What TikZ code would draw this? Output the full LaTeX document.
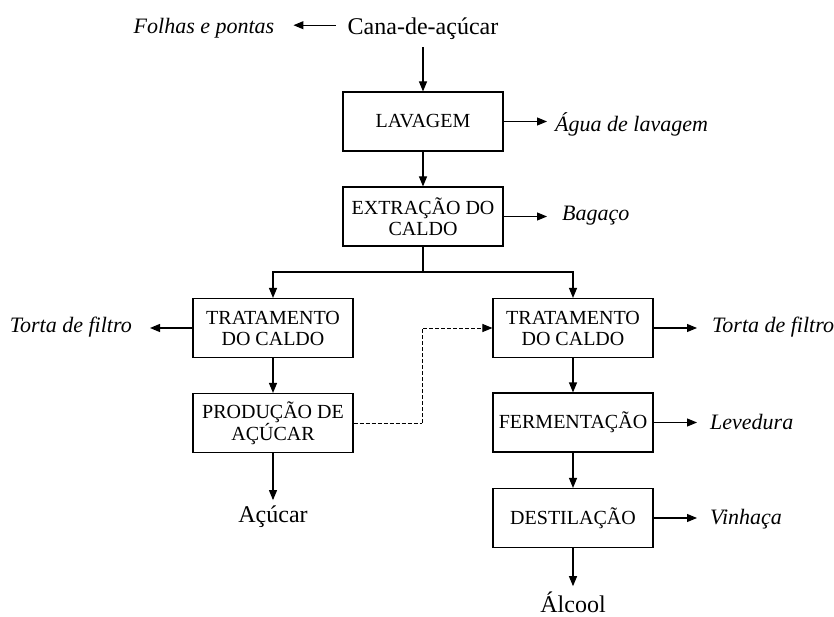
\documentclass[tikz,border=0pt]{standalone}
\usepackage{fontspec}
\setmainfont{Liberation Serif}
\usetikzlibrary{arrows.meta}
\begin{document}
\begin{tikzpicture}[x=1pt,y=-1pt,
  proc/.style={draw, line width=1.1pt, minimum width=160pt, minimum height=59pt, align=center, inner sep=2pt,
     font=\fontsize{20}{21}\selectfont},
  big/.style={inner sep=0pt, font=\fontsize{24}{26}\selectfont},
  lbl/.style={inner sep=0pt, font=\fontsize{22}{24}\selectfont\itshape},
  flow/.style={line width=1.1pt, -{Triangle[length=10pt,width=8pt]}},
  plain/.style={line width=1.1pt},
  dashline/.style={line width=1pt, dash pattern=on 4pt off 2pt}
]
\useasboundingbox (0,0) rectangle (834,617);
% nodes
\node[big, anchor=base] (cana) at (423,35) {Cana-de-açúcar};
\node[lbl, anchor=base] (folhas) at (204,34) {Folhas e pontas};
\node[proc] (lav) at (423,121.5) {LAVAGEM};
\node[lbl, anchor=west] (agua) at (555,124) {Água de lavagem};
\node[proc] (ext) at (423,216.5) {EXTRAÇÃO DO\\CALDO};
\node[lbl, anchor=west] (bag) at (562,216) {Bagaço};
\coordinate (split) at (423,272);
\node[proc] (tl) at (273,328) {TRATAMENTO\\DO CALDO};
\node[lbl, anchor=east] (tortaL) at (132,327) {Torta de filtro};
\node[proc] (pa) at (273,423) {PRODUÇÃO DE\\AÇÚCAR};
\node[big, anchor=base] (acucar) at (273,522) {Açúcar};
\node[proc] (tr) at (573,328) {TRATAMENTO\\DO CALDO};
\node[lbl, anchor=west] (tortaR) at (712,327) {Torta de filtro};
\node[proc] (fer) at (573,422.5) {FERMENTAÇÃO};
\node[lbl, anchor=west] (lev) at (710,422) {Levedura};
\node[proc] (des) at (573,518) {DESTILAÇÃO};
\node[lbl, anchor=west] (vin) at (710,519) {Vinhaça};
\node[big, anchor=base] (alcool) at (573,612) {Álcool};
\coordinate (dashc) at (422,423);
% connectors
\draw[flow, shorten <=12pt, shorten >=19pt] ([yshift=4pt]cana.west) -- ([yshift=4pt]folhas.east |- cana.west);
\draw[flow, shorten <=7pt] (cana.south) -- (lav.north);
\draw[flow, shorten >=8pt] (lav.east) -- (agua.west |- lav.east);
\draw[flow] (lav.south) -- (ext.north);
\draw[flow, shorten >=15pt] (ext.east) -- (bag.west |- ext.east);
\draw[plain] (ext.south) -- (split);
\draw[flow] (split) -| (tl.north);
\draw[flow] (split) -| (tr.north);
\draw[flow, shorten >=18pt] (tl.west) -- (tortaL.east |- tl.west);
\draw[flow] (tl.south) -- (pa.north);
\draw[flow, shorten >=5pt] (pa.south) -- (acucar.north);
\draw[dashline] (pa.east) -- (dashc);
\draw[dashline, -{Triangle[length=10pt,width=8pt]}] (dashc) |- (tr.west);
\draw[flow, shorten >=15pt] (tr.east) -- (tortaR.west |- tr.east);
\draw[flow] (tr.south) -- (fer.north);
\draw[flow, shorten >=13pt] (fer.east) -- (lev.west |- fer.east);
\draw[flow] (fer.south) -- (des.north);
\draw[flow, shorten >=13pt] (des.east) -- (vin.west |- des.east);
\draw[flow, shorten >=5pt] (des.south) -- (alcool.north);
\end{tikzpicture}
\end{document}
